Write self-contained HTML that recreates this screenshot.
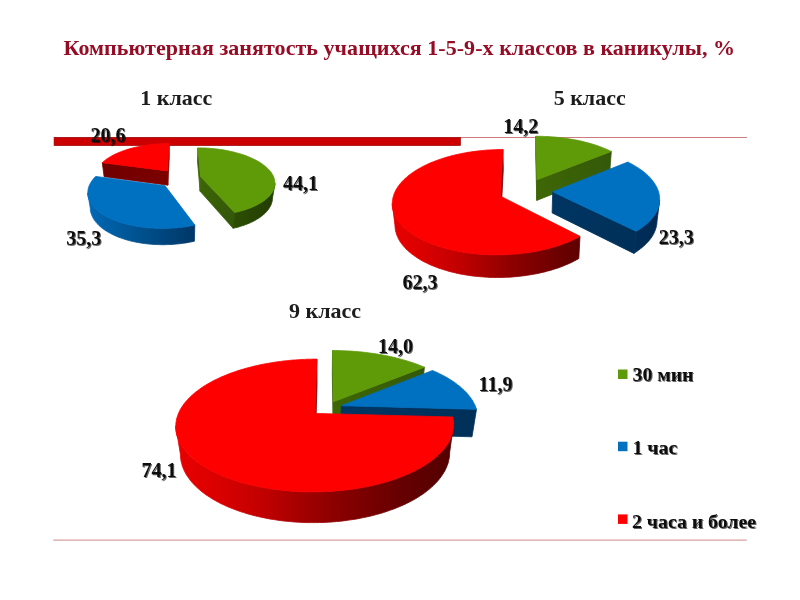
<!DOCTYPE html>
<html><head><meta charset="utf-8"><title>Компьютерная занятость</title>
<style>
html,body{margin:0;padding:0;background:#fff}
body{width:800px;height:600px;overflow:hidden;position:relative;font-family:"Liberation Serif",serif}
svg{position:absolute;left:0;top:0}
text{font-family:"Liberation Serif",serif;font-weight:bold}
</style></head><body>
<svg width="800" height="600" viewBox="0 0 800 600">
<defs>
<filter id="sh" x="-20%" y="-20%" width="150%" height="150%"><feGaussianBlur in="SourceAlpha" stdDeviation="0.75" result="b"/><feOffset in="b" dx="1" dy="1" result="o"/><feComponentTransfer in="o" result="s"><feFuncA type="linear" slope="0.6"/></feComponentTransfer><feMerge><feMergeNode in="s"/><feMergeNode in="SourceGraphic"/></feMerge></filter>
<linearGradient id="a_0_w0" gradientUnits="userSpaceOnUse" x1="200.6" y1="176.6" x2="197.9" y2="147.9"><stop offset="0" stop-color="#3E6605"/><stop offset="1" stop-color="#34580A"/></linearGradient>
<linearGradient id="a_0_w1" gradientUnits="userSpaceOnUse" x1="200.6" y1="176.6" x2="234.7" y2="212.5"><stop offset="0" stop-color="#3E6605"/><stop offset="1" stop-color="#34580A"/></linearGradient>
<linearGradient id="a_0_o0" gradientUnits="userSpaceOnUse" x1="123.6" y1="0" x2="278.0" y2="0"><stop offset="0" stop-color="#4F8008"/><stop offset="0.5" stop-color="#355A04"/><stop offset="1" stop-color="#223C02"/></linearGradient>
<linearGradient id="a_1_o0" gradientUnits="userSpaceOnUse" x1="88.4" y1="0" x2="242.8" y2="0"><stop offset="0" stop-color="#0068B4"/><stop offset="0.35" stop-color="#00508C"/><stop offset="0.7" stop-color="#003666"/><stop offset="1" stop-color="#002850"/></linearGradient>
<linearGradient id="a_2_w0" gradientUnits="userSpaceOnUse" x1="167.5" y1="170.9" x2="102.3" y2="162.7"><stop offset="0" stop-color="#7C0000"/><stop offset="1" stop-color="#700000"/></linearGradient>
<linearGradient id="a_2_w1" gradientUnits="userSpaceOnUse" x1="167.5" y1="170.9" x2="169.1" y2="143.6"><stop offset="0" stop-color="#7C0000"/><stop offset="1" stop-color="#700000"/></linearGradient>
<linearGradient id="b_0_w0" gradientUnits="userSpaceOnUse" x1="537.0" y1="179.7" x2="535.9" y2="136.3"><stop offset="0" stop-color="#3E6605"/><stop offset="1" stop-color="#34580A"/></linearGradient>
<linearGradient id="b_0_w1" gradientUnits="userSpaceOnUse" x1="537.0" y1="179.7" x2="611.3" y2="151.4"><stop offset="0" stop-color="#3E6605"/><stop offset="1" stop-color="#34580A"/></linearGradient>
<linearGradient id="b_1_w1" gradientUnits="userSpaceOnUse" x1="552.7" y1="191.8" x2="636.1" y2="231.2"><stop offset="0" stop-color="#003664"/><stop offset="1" stop-color="#003058"/></linearGradient>
<linearGradient id="b_1_o0" gradientUnits="userSpaceOnUse" x1="441.6" y1="0" x2="663.6" y2="0"><stop offset="0" stop-color="#0068B4"/><stop offset="0.35" stop-color="#00508C"/><stop offset="0.7" stop-color="#003666"/><stop offset="1" stop-color="#002850"/></linearGradient>
<linearGradient id="b_2_w1" gradientUnits="userSpaceOnUse" x1="500.3" y1="196.1" x2="502.9" y2="149.5"><stop offset="0" stop-color="#7C0000"/><stop offset="1" stop-color="#700000"/></linearGradient>
<linearGradient id="b_2_o0" gradientUnits="userSpaceOnUse" x1="389.6" y1="0" x2="611.6" y2="0"><stop offset="0" stop-color="#E80000"/><stop offset="0.12" stop-color="#DE0000"/><stop offset="0.3" stop-color="#C40000"/><stop offset="0.55" stop-color="#8E0000"/><stop offset="0.8" stop-color="#660000"/><stop offset="1" stop-color="#520000"/></linearGradient>
<linearGradient id="c_0_w0" gradientUnits="userSpaceOnUse" x1="333.4" y1="401.7" x2="332.5" y2="350.5"><stop offset="0" stop-color="#3E6605"/><stop offset="1" stop-color="#34580A"/></linearGradient>
<linearGradient id="c_0_w1" gradientUnits="userSpaceOnUse" x1="333.4" y1="401.7" x2="424.4" y2="367.2"><stop offset="0" stop-color="#3E6605"/><stop offset="1" stop-color="#34580A"/></linearGradient>
<linearGradient id="c_1_w1" gradientUnits="userSpaceOnUse" x1="341.3" y1="405.7" x2="476.5" y2="409.3"><stop offset="0" stop-color="#003664"/><stop offset="1" stop-color="#003058"/></linearGradient>
<linearGradient id="c_2_w1" gradientUnits="userSpaceOnUse" x1="315.1" y1="413.4" x2="316.8" y2="359.1"><stop offset="0" stop-color="#7C0000"/><stop offset="1" stop-color="#700000"/></linearGradient>
<linearGradient id="c_2_o0" gradientUnits="userSpaceOnUse" x1="174.7" y1="0" x2="457.6" y2="0"><stop offset="0" stop-color="#E80000"/><stop offset="0.12" stop-color="#DE0000"/><stop offset="0.3" stop-color="#C40000"/><stop offset="0.55" stop-color="#8E0000"/><stop offset="0.8" stop-color="#660000"/><stop offset="1" stop-color="#520000"/></linearGradient>
</defs>
<rect width="800" height="600" fill="#fff"/>
<rect x="460" y="137" width="287" height="1" fill="#CC7C7C"/>
<rect x="53.25" y="539.6" width="693.5" height="1" fill="#CF8888"/>
<text x="63.5" y="54.8" font-size="22" fill="#960C24" textLength="671.5" lengthAdjust="spacing">Компьютерная занятость учащихся 1-5-9-х классов в каникулы, %</text>
<g font-size="22" fill="#1C1C1C">
<text x="140.3" y="105.2">1 класс</text>
<text x="553.7" y="105.2">5 класс</text>
<text x="289" y="318">9 класс</text>
</g>
<rect x="54.1" y="137.35" width="406.3" height="8.2" fill="#CC0000" stroke="#9A0000" stroke-width="0.7"/>
<polygon points="167.5,170.9 102.3,162.7 104.1,176.7 167.8,185.2" fill="url(#a_2_w0)" stroke="url(#a_2_w0)" stroke-width="0.8" stroke-linejoin="round"/>
<polygon points="167.5,170.9 169.1,143.6 169.3,156.7 167.8,185.2" fill="url(#a_2_w1)" stroke="url(#a_2_w1)" stroke-width="0.8" stroke-linejoin="round"/>
<polygon points="167.5,170.9 102.3,162.7 103.1,162.0 103.9,161.2 104.8,160.5 105.7,159.8 106.6,159.1 107.6,158.5 108.6,157.8 109.6,157.2 110.7,156.5 111.8,155.9 112.9,155.3 114.1,154.7 115.2,154.1 116.4,153.6 117.7,153.0 118.9,152.5 120.2,152.0 121.5,151.4 122.8,151.0 124.2,150.5 125.6,150.0 126.9,149.6 128.4,149.1 129.8,148.7 131.2,148.3 132.7,147.9 134.2,147.6 135.6,147.2 137.2,146.9 138.7,146.6 140.2,146.3 141.7,146.0 143.3,145.7 144.9,145.4 146.4,145.2 148.0,145.0 149.6,144.8 151.2,144.6 152.8,144.4 154.4,144.2 156.1,144.1 157.7,144.0 159.3,143.9 160.9,143.8 162.6,143.7 164.2,143.6 165.8,143.6 167.5,143.6 169.1,143.6" fill="#FE0000" stroke="#FE0000" stroke-width="0.8" stroke-linejoin="round"/>
<polygon points="200.6,176.6 197.9,147.9 197.5,161.2 200.1,191.2" fill="url(#a_0_w0)" stroke="url(#a_0_w0)" stroke-width="0.8" stroke-linejoin="round"/>
<polygon points="200.6,176.6 234.7,212.5 233.1,228.3 200.1,191.2" fill="url(#a_0_w1)" stroke="url(#a_0_w1)" stroke-width="0.8" stroke-linejoin="round"/>
<polygon points="274.9,183.3 274.9,184.2 274.8,185.1 274.7,186.0 274.5,186.9 274.2,187.9 273.9,188.8 273.5,189.7 273.1,190.6 272.6,191.5 272.1,192.4 271.5,193.3 270.8,194.2 270.1,195.1 269.4,195.9 268.5,196.8 267.7,197.7 266.7,198.5 265.7,199.3 264.7,200.2 263.5,201.0 262.4,201.8 261.1,202.6 259.9,203.3 258.5,204.1 257.1,204.8 255.7,205.6 254.2,206.2 252.7,206.9 251.1,207.6 249.4,208.2 247.7,208.8 246.0,209.4 244.2,210.0 242.4,210.6 240.5,211.1 238.6,211.6 236.7,212.0 234.7,212.5 233.1,228.3 235.1,227.8 237.0,227.4 238.8,226.9 240.6,226.3 242.4,225.8 244.1,225.2 245.8,224.6 247.5,223.9 249.1,223.3 250.6,222.6 252.1,221.9 253.6,221.2 255.0,220.4 256.3,219.6 257.6,218.9 258.9,218.1 260.1,217.3 261.2,216.4 262.3,215.6 263.4,214.7 264.3,213.9 265.3,213.0 266.1,212.1 266.9,211.2 267.7,210.3 268.4,209.4 269.0,208.5 269.6,207.5 270.2,206.6 270.6,205.7 271.1,204.7 271.4,203.8 271.7,202.8 272.0,201.9 272.2,201.0 272.3,200.0 272.4,199.1 272.5,198.1" fill="url(#a_0_o0)" stroke="url(#a_0_o0)" stroke-width="0.8" stroke-linejoin="round"/>
<polygon points="200.6,176.6 197.9,147.9 199.6,147.9 201.2,147.9 202.9,148.0 204.6,148.0 206.3,148.1 207.9,148.2 209.6,148.3 211.3,148.5 212.9,148.6 214.6,148.8 216.2,148.9 217.9,149.1 219.5,149.4 221.1,149.6 222.8,149.8 224.4,150.1 226.0,150.4 227.6,150.7 229.1,151.0 230.7,151.4 232.3,151.7 233.8,152.1 235.3,152.5 236.8,152.9 238.3,153.3 239.8,153.7 241.3,154.2 242.7,154.6 244.1,155.1 245.5,155.6 246.9,156.1 248.3,156.7 249.6,157.2 250.9,157.8 252.2,158.4 253.5,158.9 254.7,159.6 255.9,160.2 257.1,160.8 258.2,161.5 259.4,162.1 260.4,162.8 261.5,163.5 262.5,164.2 263.5,164.9 264.5,165.7 265.4,166.4 266.3,167.2 267.1,167.9 267.9,168.7 268.7,169.5 269.4,170.3 270.1,171.1 270.8,171.9 271.4,172.8 271.9,173.6 272.4,174.4 272.9,175.3 273.3,176.2 273.7,177.0 274.0,177.9 274.3,178.8 274.5,179.7 274.7,180.6 274.8,181.5 274.9,182.4 274.9,183.3 274.9,184.2 274.8,185.1 274.7,186.0 274.5,186.9 274.2,187.9 273.9,188.8 273.5,189.7 273.1,190.6 272.6,191.5 272.1,192.4 271.5,193.3 270.8,194.2 270.1,195.1 269.4,195.9 268.5,196.8 267.7,197.7 266.7,198.5 265.7,199.3 264.7,200.2 263.5,201.0 262.4,201.8 261.1,202.6 259.9,203.3 258.5,204.1 257.1,204.8 255.7,205.6 254.2,206.2 252.7,206.9 251.1,207.6 249.4,208.2 247.7,208.8 246.0,209.4 244.2,210.0 242.4,210.6 240.5,211.1 238.6,211.6 236.7,212.0 234.7,212.5" fill="#5F9A09" stroke="#5F9A09" stroke-width="0.8" stroke-linejoin="round"/>
<polygon points="194.8,225.0 192.7,225.5 190.4,225.9 188.2,226.3 185.9,226.7 183.7,227.0 181.4,227.3 179.0,227.5 176.7,227.8 174.3,228.0 172.0,228.1 169.6,228.2 167.2,228.3 164.8,228.4 162.5,228.4 160.1,228.4 157.7,228.3 155.3,228.3 153.0,228.1 150.6,228.0 148.3,227.8 146.0,227.6 143.7,227.3 141.4,227.0 139.2,226.7 137.0,226.3 134.8,225.9 132.6,225.5 130.5,225.1 128.4,224.6 126.4,224.1 124.4,223.5 122.4,222.9 120.5,222.3 118.6,221.7 116.8,221.1 115.0,220.4 113.2,219.7 111.5,219.0 109.9,218.2 108.3,217.5 106.8,216.7 105.3,215.9 103.9,215.0 102.6,214.2 101.3,213.3 100.0,212.5 98.8,211.6 97.7,210.7 96.6,209.7 95.6,208.8 94.7,207.9 93.8,206.9 93.0,206.0 92.2,205.0 91.5,204.0 90.9,203.1 90.3,202.1 89.8,201.1 89.4,200.1 89.0,199.1 88.6,198.1 88.3,197.1 88.1,196.1 88.0,195.1 87.8,194.1 87.8,193.1 90.3,208.3 90.3,209.3 90.4,210.4 90.6,211.4 90.8,212.4 91.1,213.5 91.5,214.5 91.9,215.5 92.3,216.5 92.8,217.6 93.4,218.6 94.0,219.6 94.7,220.6 95.5,221.6 96.3,222.6 97.1,223.6 98.1,224.5 99.0,225.5 100.1,226.4 101.2,227.4 102.3,228.3 103.5,229.2 104.8,230.1 106.1,230.9 107.5,231.8 109.0,232.6 110.4,233.4 112.0,234.2 113.6,235.0 115.2,235.7 116.9,236.5 118.6,237.2 120.4,237.8 122.3,238.5 124.1,239.1 126.0,239.7 128.0,240.2 130.0,240.8 132.0,241.3 134.1,241.7 136.2,242.2 138.3,242.6 140.4,242.9 142.6,243.3 144.8,243.6 147.0,243.8 149.3,244.1 151.5,244.3 153.8,244.4 156.1,244.5 158.4,244.6 160.7,244.7 163.0,244.7 165.3,244.7 167.6,244.6 169.9,244.5 172.2,244.4 174.5,244.2 176.8,244.0 179.1,243.8 181.3,243.5 183.5,243.2 185.8,242.9 188.0,242.5 190.1,242.1 192.3,241.7 194.4,241.2" fill="url(#a_1_o0)" stroke="url(#a_1_o0)" stroke-width="0.8" stroke-linejoin="round"/>
<polygon points="165.1,185.8 194.8,225.0 192.7,225.5 190.4,225.9 188.2,226.3 185.9,226.7 183.7,227.0 181.4,227.3 179.0,227.5 176.7,227.8 174.3,228.0 172.0,228.1 169.6,228.2 167.2,228.3 164.8,228.4 162.5,228.4 160.1,228.4 157.7,228.3 155.3,228.3 153.0,228.1 150.6,228.0 148.3,227.8 146.0,227.6 143.7,227.3 141.4,227.0 139.2,226.7 137.0,226.3 134.8,225.9 132.6,225.5 130.5,225.1 128.4,224.6 126.4,224.1 124.4,223.5 122.4,222.9 120.5,222.3 118.6,221.7 116.8,221.1 115.0,220.4 113.2,219.7 111.5,219.0 109.9,218.2 108.3,217.5 106.8,216.7 105.3,215.9 103.9,215.0 102.6,214.2 101.3,213.3 100.0,212.5 98.8,211.6 97.7,210.7 96.6,209.7 95.6,208.8 94.7,207.9 93.8,206.9 93.0,206.0 92.2,205.0 91.5,204.0 90.9,203.1 90.3,202.1 89.8,201.1 89.4,200.1 89.0,199.1 88.6,198.1 88.3,197.1 88.1,196.1 88.0,195.1 87.8,194.1 87.8,193.1 87.8,192.2 87.9,191.2 88.0,190.2 88.1,189.2 88.4,188.2 88.6,187.3 89.0,186.3 89.3,185.4 89.8,184.4 90.2,183.5 90.8,182.6 91.3,181.7 91.9,180.8 92.6,179.9 93.3,179.0 94.0,178.1 94.8,177.3 95.7,176.4" fill="#0070C0" stroke="#0070C0" stroke-width="0.8" stroke-linejoin="round"/>
<polygon points="537.0,179.7 535.9,136.3 535.7,155.7 536.8,200.4" fill="url(#b_0_w0)" stroke="url(#b_0_w0)" stroke-width="0.8" stroke-linejoin="round"/>
<polygon points="537.0,179.7 611.3,151.4 609.8,171.4 536.8,200.4" fill="url(#b_0_w1)" stroke="url(#b_0_w1)" stroke-width="0.8" stroke-linejoin="round"/>
<polygon points="537.0,179.7 535.9,136.3 538.3,136.3 540.7,136.3 543.2,136.4 545.6,136.5 548.0,136.6 550.5,136.8 552.9,136.9 555.3,137.1 557.7,137.4 560.1,137.6 562.4,137.9 564.8,138.2 567.2,138.5 569.5,138.9 571.8,139.3 574.1,139.7 576.4,140.1 578.7,140.6 580.9,141.1 583.2,141.6 585.4,142.2 587.5,142.7 589.7,143.3 591.8,143.9 593.9,144.6 596.0,145.2 598.0,145.9 600.0,146.7 602.0,147.4 603.9,148.2 605.8,148.9 607.7,149.7 609.5,150.6 611.3,151.4" fill="#5F9A09" stroke="#5F9A09" stroke-width="0.8" stroke-linejoin="round"/>
<polygon points="552.7,191.8 636.1,231.2 633.9,253.4 552.1,212.9" fill="url(#b_1_w1)" stroke="url(#b_1_w1)" stroke-width="0.8" stroke-linejoin="round"/>
<polygon points="659.6,200.2 659.5,201.6 659.4,202.9 659.1,204.3 658.8,205.7 658.4,207.0 657.9,208.4 657.4,209.8 656.8,211.1 656.1,212.5 655.3,213.8 654.4,215.1 653.5,216.5 652.4,217.8 651.3,219.1 650.2,220.4 648.9,221.7 647.6,222.9 646.2,224.2 644.7,225.4 643.1,226.6 641.5,227.8 639.8,229.0 638.0,230.1 636.1,231.2 633.9,253.4 635.7,252.2 637.4,251.0 639.1,249.8 640.7,248.6 642.2,247.4 643.7,246.1 645.1,244.8 646.4,243.5 647.6,242.2 648.8,240.9 649.9,239.6 650.9,238.2 651.8,236.9 652.7,235.5 653.5,234.1 654.2,232.7 654.8,231.3 655.3,229.9 655.8,228.5 656.2,227.1 656.5,225.7 656.8,224.3 656.9,222.9 657.0,221.5" fill="url(#b_1_o0)" stroke="url(#b_1_o0)" stroke-width="0.8" stroke-linejoin="round"/>
<polygon points="552.7,191.8 627.9,162.0 629.7,163.0 631.5,163.9 633.2,164.9 634.9,165.9 636.6,166.9 638.2,167.9 639.7,168.9 641.2,170.0 642.7,171.1 644.1,172.2 645.5,173.3 646.8,174.5 648.0,175.6 649.2,176.8 650.3,178.0 651.4,179.2 652.4,180.4 653.3,181.7 654.2,182.9 655.0,184.2 655.8,185.5 656.5,186.8 657.1,188.1 657.7,189.4 658.2,190.7 658.6,192.1 659.0,193.4 659.2,194.7 659.4,196.1 659.6,197.5 659.6,198.8 659.6,200.2 659.5,201.6 659.4,202.9 659.1,204.3 658.8,205.7 658.4,207.0 657.9,208.4 657.4,209.8 656.8,211.1 656.1,212.5 655.3,213.8 654.4,215.1 653.5,216.5 652.4,217.8 651.3,219.1 650.2,220.4 648.9,221.7 647.6,222.9 646.2,224.2 644.7,225.4 643.1,226.6 641.5,227.8 639.8,229.0 638.0,230.1 636.1,231.2" fill="#0070C0" stroke="#0070C0" stroke-width="0.8" stroke-linejoin="round"/>
<polygon points="500.3,196.1 502.9,149.5 503.3,169.4 500.8,217.3" fill="url(#b_2_w1)" stroke="url(#b_2_w1)" stroke-width="0.8" stroke-linejoin="round"/>
<polygon points="580.0,236.3 577.9,237.4 575.7,238.5 573.5,239.6 571.2,240.7 568.9,241.7 566.5,242.7 564.0,243.6 561.5,244.5 558.9,245.4 556.2,246.3 553.5,247.1 550.8,247.9 548.0,248.6 545.2,249.3 542.3,250.0 539.4,250.6 536.4,251.2 533.4,251.7 530.4,252.2 527.4,252.7 524.3,253.1 521.2,253.5 518.1,253.8 514.9,254.1 511.8,254.3 508.6,254.5 505.4,254.7 502.3,254.8 499.1,254.8 495.9,254.8 492.7,254.8 489.6,254.7 486.4,254.6 483.3,254.4 480.1,254.2 477.0,253.9 473.9,253.6 470.8,253.2 467.8,252.8 464.8,252.4 461.8,251.9 458.9,251.4 456.0,250.8 453.1,250.2 450.3,249.5 447.5,248.8 444.8,248.1 442.1,247.3 439.5,246.5 437.0,245.7 434.5,244.8 432.0,243.9 429.6,243.0 427.3,242.0 425.1,241.0 422.9,239.9 420.7,238.9 418.7,237.8 416.7,236.7 414.8,235.5 413.0,234.3 411.2,233.1 409.5,231.9 407.9,230.7 406.4,229.4 404.9,228.2 403.5,226.9 402.2,225.6 401.0,224.2 399.9,222.9 398.8,221.6 397.8,220.2 397.0,218.8 396.1,217.5 395.4,216.1 394.7,214.7 394.2,213.3 393.7,211.9 393.2,210.5 392.9,209.1 392.6,207.7 392.4,206.3 392.3,204.9 392.3,203.5 394.9,224.9 395.0,226.3 395.1,227.8 395.3,229.2 395.5,230.7 395.9,232.1 396.3,233.5 396.8,235.0 397.4,236.4 398.0,237.8 398.7,239.3 399.5,240.7 400.4,242.1 401.4,243.5 402.4,244.8 403.6,246.2 404.8,247.6 406.0,248.9 407.4,250.2 408.8,251.5 410.3,252.8 411.9,254.1 413.6,255.3 415.3,256.5 417.1,257.7 419.0,258.9 420.9,260.1 422.9,261.2 425.0,262.3 427.2,263.3 429.4,264.4 431.7,265.4 434.0,266.3 436.4,267.3 438.9,268.2 441.4,269.0 443.9,269.8 446.5,270.6 449.2,271.4 451.9,272.1 454.7,272.7 457.5,273.4 460.3,274.0 463.2,274.5 466.1,275.0 469.1,275.4 472.0,275.9 475.0,276.2 478.1,276.5 481.1,276.8 484.2,277.0 487.2,277.2 490.3,277.4 493.4,277.4 496.5,277.5 499.7,277.5 502.8,277.4 505.9,277.3 509.0,277.2 512.1,277.0 515.2,276.7 518.2,276.4 521.3,276.1 524.3,275.7 527.3,275.3 530.3,274.8 533.3,274.3 536.2,273.8 539.1,273.2 541.9,272.5 544.8,271.9 547.5,271.1 550.3,270.4 552.9,269.6 555.6,268.7 558.2,267.9 560.7,267.0 563.2,266.0 565.6,265.0 568.0,264.0 570.3,263.0 572.5,261.9 574.7,260.8 576.8,259.7 578.8,258.5" fill="url(#b_2_o0)" stroke="url(#b_2_o0)" stroke-width="0.8" stroke-linejoin="round"/>
<polygon points="500.3,196.1 580.0,236.3 577.9,237.4 575.7,238.5 573.5,239.6 571.2,240.7 568.9,241.7 566.5,242.7 564.0,243.6 561.5,244.5 558.9,245.4 556.2,246.3 553.5,247.1 550.8,247.9 548.0,248.6 545.2,249.3 542.3,250.0 539.4,250.6 536.4,251.2 533.4,251.7 530.4,252.2 527.4,252.7 524.3,253.1 521.2,253.5 518.1,253.8 514.9,254.1 511.8,254.3 508.6,254.5 505.4,254.7 502.3,254.8 499.1,254.8 495.9,254.8 492.7,254.8 489.6,254.7 486.4,254.6 483.3,254.4 480.1,254.2 477.0,253.9 473.9,253.6 470.8,253.2 467.8,252.8 464.8,252.4 461.8,251.9 458.9,251.4 456.0,250.8 453.1,250.2 450.3,249.5 447.5,248.8 444.8,248.1 442.1,247.3 439.5,246.5 437.0,245.7 434.5,244.8 432.0,243.9 429.6,243.0 427.3,242.0 425.1,241.0 422.9,239.9 420.7,238.9 418.7,237.8 416.7,236.7 414.8,235.5 413.0,234.3 411.2,233.1 409.5,231.9 407.9,230.7 406.4,229.4 404.9,228.2 403.5,226.9 402.2,225.6 401.0,224.2 399.9,222.9 398.8,221.6 397.8,220.2 397.0,218.8 396.1,217.5 395.4,216.1 394.7,214.7 394.2,213.3 393.7,211.9 393.2,210.5 392.9,209.1 392.6,207.7 392.4,206.3 392.3,204.9 392.3,203.5 392.4,202.1 392.5,200.7 392.7,199.3 392.9,197.9 393.3,196.6 393.7,195.2 394.2,193.8 394.7,192.5 395.4,191.1 396.0,189.8 396.8,188.5 397.6,187.2 398.5,185.9 399.5,184.6 400.5,183.4 401.6,182.1 402.7,180.9 403.9,179.7 405.1,178.5 406.5,177.4 407.8,176.2 409.2,175.1 410.7,173.9 412.2,172.9 413.8,171.8 415.4,170.7 417.1,169.7 418.8,168.7 420.6,167.7 422.4,166.7 424.2,165.8 426.1,164.9 428.0,164.0 430.0,163.1 432.0,162.3 434.0,161.5 436.1,160.7 438.2,159.9 440.3,159.2 442.5,158.4 444.7,157.8 446.9,157.1 449.2,156.5 451.4,155.8 453.7,155.3 456.1,154.7 458.4,154.2 460.8,153.7 463.2,153.2 465.6,152.8 468.0,152.3 470.4,152.0 472.9,151.6 475.3,151.3 477.8,151.0 480.3,150.7 482.8,150.5 485.3,150.2 487.8,150.0 490.3,149.9 492.8,149.8 495.3,149.7 497.9,149.6 500.4,149.5 502.9,149.5" fill="#FE0000" stroke="#FE0000" stroke-width="0.8" stroke-linejoin="round"/>
<polygon points="333.4,401.7 332.5,350.5 332.3,375.0 333.2,428.9" fill="url(#c_0_w0)" stroke="url(#c_0_w0)" stroke-width="0.8" stroke-linejoin="round"/>
<polygon points="333.4,401.7 424.4,367.2 421.8,392.6 333.2,428.9" fill="url(#c_0_w1)" stroke="url(#c_0_w1)" stroke-width="0.8" stroke-linejoin="round"/>
<polygon points="333.4,401.7 332.5,350.5 335.5,350.6 338.5,350.6 341.4,350.7 344.4,350.8 347.4,350.9 350.4,351.1 353.4,351.3 356.4,351.5 359.3,351.8 362.3,352.1 365.2,352.4 368.1,352.8 371.0,353.2 373.9,353.6 376.8,354.0 379.7,354.5 382.5,355.0 385.3,355.5 388.1,356.1 390.9,356.7 393.7,357.3 396.4,358.0 399.1,358.7 401.8,359.4 404.4,360.2 407.1,360.9 409.6,361.7 412.2,362.6 414.7,363.4 417.2,364.3 419.6,365.3 422.0,366.2 424.4,367.2" fill="#5F9A09" stroke="#5F9A09" stroke-width="0.8" stroke-linejoin="round"/>
<polygon points="341.3,405.7 476.5,409.3 472.0,436.8 340.9,433.1" fill="url(#c_1_w1)" stroke="url(#c_1_w1)" stroke-width="0.8" stroke-linejoin="round"/>
<polygon points="341.3,405.7 432.5,370.5 434.8,371.5 437.2,372.6 439.5,373.7 441.7,374.8 443.9,375.9 446.0,377.1 448.1,378.3 450.1,379.6 452.1,380.8 454.0,382.1 455.9,383.4 457.6,384.8 459.4,386.1 461.0,387.5 462.6,388.9 464.2,390.4 465.6,391.8 467.0,393.3 468.3,394.8 469.6,396.4 470.7,397.9 471.8,399.5 472.8,401.1 473.7,402.7 474.5,404.3 475.3,405.9 475.9,407.6 476.5,409.3" fill="#0070C0" stroke="#0070C0" stroke-width="0.8" stroke-linejoin="round"/>
<polygon points="315.1,413.4 316.8,359.1 317.0,384.0 315.4,441.1" fill="url(#c_2_w1)" stroke="url(#c_2_w1)" stroke-width="0.8" stroke-linejoin="round"/>
<polygon points="453.6,424.0 453.6,425.8 453.5,427.6 453.3,429.4 452.9,431.2 452.5,433.0 452.0,434.8 451.3,436.6 450.6,438.4 449.7,440.2 448.8,442.0 447.7,443.8 446.5,445.5 445.2,447.3 443.8,449.1 442.3,450.9 440.6,452.6 438.9,454.3 437.0,456.1 435.1,457.8 433.0,459.4 430.8,461.1 428.5,462.7 426.1,464.3 423.6,465.9 421.0,467.5 418.2,469.0 415.4,470.5 412.5,471.9 409.5,473.3 406.3,474.7 403.1,476.0 399.8,477.3 396.4,478.6 392.9,479.8 389.3,480.9 385.7,482.0 382.0,483.1 378.2,484.1 374.3,485.0 370.3,485.9 366.3,486.7 362.3,487.5 358.2,488.2 354.0,488.9 349.8,489.4 345.6,490.0 341.3,490.4 337.0,490.8 332.6,491.2 328.3,491.4 323.9,491.6 319.5,491.8 315.1,491.8 310.7,491.9 306.3,491.8 301.9,491.7 297.6,491.5 293.2,491.2 288.9,490.9 284.6,490.5 280.3,490.0 276.1,489.5 271.9,488.9 267.8,488.3 263.7,487.6 259.7,486.8 255.8,486.0 251.9,485.1 248.0,484.2 244.3,483.2 240.6,482.2 237.0,481.1 233.5,479.9 230.1,478.7 226.7,477.5 223.5,476.2 220.4,474.9 217.3,473.5 214.4,472.1 211.5,470.7 208.8,469.2 206.1,467.7 203.6,466.1 201.2,464.6 198.8,462.9 196.6,461.3 194.5,459.7 192.5,458.0 190.7,456.3 188.9,454.6 187.3,452.8 185.7,451.1 184.3,449.3 183.0,447.6 181.8,445.8 180.7,444.0 179.7,442.2 178.9,440.4 178.1,438.6 177.4,436.8 176.9,435.0 176.5,433.2 176.1,431.4 175.9,429.6 175.8,427.8 175.8,426.0 180.4,454.3 180.5,456.1 180.6,458.0 180.9,459.9 181.2,461.8 181.7,463.6 182.2,465.5 182.9,467.4 183.6,469.3 184.5,471.2 185.4,473.0 186.5,474.9 187.7,476.7 189.0,478.6 190.4,480.4 191.9,482.2 193.5,484.0 195.2,485.8 197.1,487.6 199.0,489.3 201.0,491.0 203.2,492.7 205.4,494.4 207.8,496.0 210.3,497.6 212.8,499.2 215.5,500.7 218.3,502.2 221.1,503.7 224.1,505.1 227.1,506.5 230.3,507.8 233.5,509.1 236.8,510.3 240.2,511.5 243.7,512.6 247.2,513.7 250.8,514.7 254.5,515.7 258.3,516.6 262.1,517.4 266.0,518.2 269.9,519.0 273.9,519.6 277.9,520.2 282.0,520.8 286.1,521.2 290.2,521.6 294.4,522.0 298.6,522.2 302.8,522.4 307.0,522.6 311.3,522.6 315.5,522.6 319.7,522.5 324.0,522.4 328.2,522.2 332.4,521.9 336.6,521.6 340.7,521.2 344.8,520.7 348.9,520.1 353.0,519.5 357.0,518.9 361.0,518.1 364.9,517.3 368.8,516.5 372.6,515.6 376.3,514.6 380.0,513.6 383.6,512.5 387.1,511.3 390.5,510.1 393.9,508.9 397.2,507.6 400.4,506.3 403.5,504.9 406.5,503.5 409.5,502.0 412.3,500.5 415.1,499.0 417.7,497.4 420.2,495.8 422.7,494.2 425.0,492.5 427.2,490.8 429.4,489.1 431.4,487.3 433.3,485.6 435.1,483.8 436.8,482.0 438.4,480.2 439.9,478.3 441.3,476.5 442.5,474.6 443.7,472.8 444.8,470.9 445.7,469.0 446.6,467.1 447.3,465.3 448.0,463.4 448.5,461.5 448.9,459.6 449.3,457.8 449.5,455.9 449.6,454.0 449.7,452.2" fill="url(#c_2_o0)" stroke="url(#c_2_o0)" stroke-width="0.8" stroke-linejoin="round"/>
<polygon points="315.1,413.4 452.8,417.0 453.1,418.8 453.4,420.5 453.6,422.3 453.6,424.0 453.6,425.8 453.5,427.6 453.3,429.4 452.9,431.2 452.5,433.0 452.0,434.8 451.3,436.6 450.6,438.4 449.7,440.2 448.8,442.0 447.7,443.8 446.5,445.5 445.2,447.3 443.8,449.1 442.3,450.9 440.6,452.6 438.9,454.3 437.0,456.1 435.1,457.8 433.0,459.4 430.8,461.1 428.5,462.7 426.1,464.3 423.6,465.9 421.0,467.5 418.2,469.0 415.4,470.5 412.5,471.9 409.5,473.3 406.3,474.7 403.1,476.0 399.8,477.3 396.4,478.6 392.9,479.8 389.3,480.9 385.7,482.0 382.0,483.1 378.2,484.1 374.3,485.0 370.3,485.9 366.3,486.7 362.3,487.5 358.2,488.2 354.0,488.9 349.8,489.4 345.6,490.0 341.3,490.4 337.0,490.8 332.6,491.2 328.3,491.4 323.9,491.6 319.5,491.8 315.1,491.8 310.7,491.9 306.3,491.8 301.9,491.7 297.6,491.5 293.2,491.2 288.9,490.9 284.6,490.5 280.3,490.0 276.1,489.5 271.9,488.9 267.8,488.3 263.7,487.6 259.7,486.8 255.8,486.0 251.9,485.1 248.0,484.2 244.3,483.2 240.6,482.2 237.0,481.1 233.5,479.9 230.1,478.7 226.7,477.5 223.5,476.2 220.4,474.9 217.3,473.5 214.4,472.1 211.5,470.7 208.8,469.2 206.1,467.7 203.6,466.1 201.2,464.6 198.8,462.9 196.6,461.3 194.5,459.7 192.5,458.0 190.7,456.3 188.9,454.6 187.3,452.8 185.7,451.1 184.3,449.3 183.0,447.6 181.8,445.8 180.7,444.0 179.7,442.2 178.9,440.4 178.1,438.6 177.4,436.8 176.9,435.0 176.5,433.2 176.1,431.4 175.9,429.6 175.8,427.8 175.8,426.0 175.8,424.3 176.0,422.5 176.3,420.7 176.6,419.0 177.1,417.3 177.7,415.5 178.3,413.8 179.0,412.2 179.8,410.5 180.7,408.8 181.7,407.2 182.8,405.6 183.9,404.0 185.1,402.4 186.4,400.9 187.8,399.4 189.2,397.9 190.8,396.4 192.3,394.9 194.0,393.5 195.7,392.1 197.5,390.7 199.3,389.4 201.2,388.0 203.1,386.7 205.2,385.4 207.2,384.2 209.3,383.0 211.5,381.8 213.7,380.6 216.0,379.5 218.3,378.4 220.6,377.3 223.0,376.3 225.5,375.3 227.9,374.3 230.4,373.3 233.0,372.4 235.6,371.5 238.2,370.6 240.9,369.8 243.5,369.0 246.2,368.2 249.0,367.5 251.8,366.8 254.5,366.1 257.4,365.4 260.2,364.8 263.1,364.2 265.9,363.7 268.8,363.2 271.7,362.7 274.7,362.2 277.6,361.8 280.6,361.4 283.6,361.0 286.6,360.7 289.5,360.4 292.6,360.1 295.6,359.9 298.6,359.7 301.6,359.5 304.6,359.4 307.7,359.2 310.7,359.2 313.8,359.1 316.8,359.1" fill="#FE0000" stroke="#FE0000" stroke-width="0.8" stroke-linejoin="round"/>
<g font-size="20" fill="#111"><text x="90.5" y="141.5" filter="url(#sh)">20,6</text><text x="283" y="189.7" filter="url(#sh)">44,1</text><text x="66.2" y="244.8" filter="url(#sh)">35,3</text><text x="503.3" y="133" filter="url(#sh)">14,2</text><text x="658.75" y="244.4" filter="url(#sh)">23,3</text><text x="402.5" y="288.7" filter="url(#sh)">62,3</text><text x="378" y="352.5" filter="url(#sh)">14,0</text><text x="478.5" y="390.8" filter="url(#sh)">11,9</text><text x="141.6" y="476.8" filter="url(#sh)">74,1</text></g>
<g font-size="19.8" fill="#111">
<rect x="618" y="369.5" width="9.5" height="9.5" fill="#5F9A09"/><text x="632.5" y="381.2" filter="url(#sh)">30 мин</text>
<rect x="618" y="441.7" width="9.5" height="9.5" fill="#0070C0"/><text x="632.5" y="453.8" filter="url(#sh)">1 час</text>
<rect x="618" y="514.4" width="9.5" height="9.5" fill="#FE0000"/><text x="632" y="527.5" filter="url(#sh)">2 часа и более</text>
</g>
</svg>
</body></html>
